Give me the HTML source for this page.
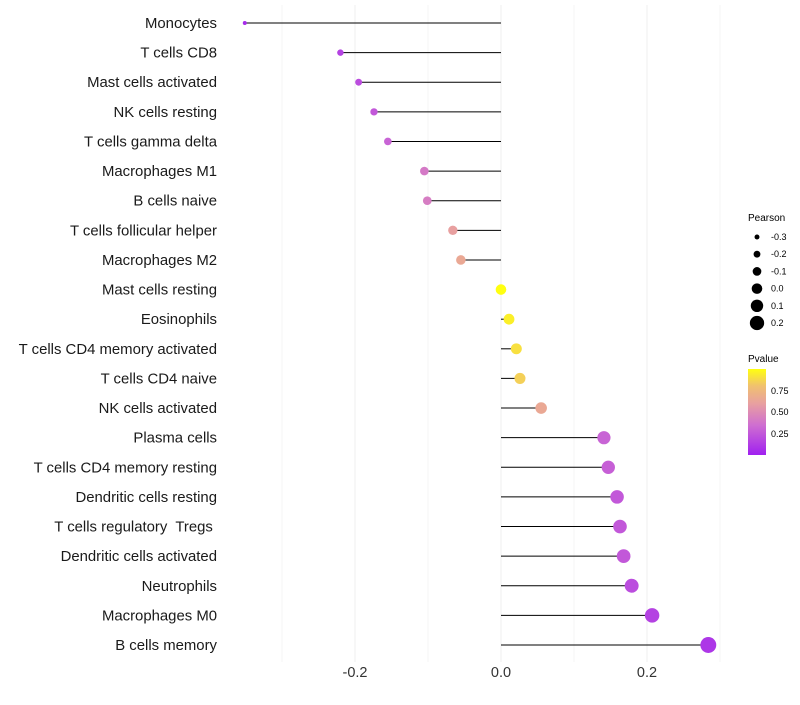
<!DOCTYPE html>
<html><head><meta charset="utf-8"><style>
body{margin:0;background:#fff;font-family:"Liberation Sans",sans-serif}
text{white-space:pre}
</style></head><body>
<svg id="chart" width="800" height="700" xmlns="http://www.w3.org/2000/svg">
<defs><linearGradient id="pg" x1="0" y1="1" x2="0" y2="0">
<stop offset="0" stop-color="#a020f0"/><stop offset="0.35" stop-color="#cf6fd0"/><stop offset="0.6" stop-color="#e8a0a0"/><stop offset="0.8" stop-color="#f0c070"/><stop offset="1" stop-color="#ffff10"/>
</linearGradient></defs>
<g id="grid"></g><g id="marks"></g><g id="labels"></g>
<g font-size="9" fill="#000">
<text x="748" y="221" font-size="10">Pearson</text>
<g id="sizeleg"></g>
</g>
<g font-size="9" fill="#000">
<text x="748" y="362" font-size="10">Pvalue</text>
<rect x="748" y="369" width="18" height="86" fill="url(#pg)"/>
<text x="771" y="394">0.75</text><text x="771" y="415">0.50</text><text x="771" y="437">0.25</text>
</g>
</svg>
<script>
const cats=["Monocytes","T cells CD8","Mast cells activated","NK cells resting","T cells gamma delta","Macrophages M1","B cells naive","T cells follicular helper","Macrophages M2","Mast cells resting","Eosinophils","T cells CD4 memory activated","T cells CD4 naive","NK cells activated","Plasma cells","T cells CD4 memory resting","Dendritic cells resting","T cells regulatory  Tregs ","Dendritic cells activated","Neutrophils","Macrophages M0","B cells memory"];
const pearson=[-0.351,-0.22,-0.195,-0.174,-0.155,-0.105,-0.101,-0.066,-0.055,0,0.011,0.021,0.026,0.055,0.141,0.147,0.159,0.163,0.168,0.179,0.207,0.284];
const pvals=[0.05,0.15,0.2,0.25,0.3,0.4,0.42,0.6,0.65,1.0,0.95,0.9,0.85,0.65,0.3,0.28,0.25,0.25,0.25,0.2,0.15,0.1];
const xTicks=[-0.2,0,0.2];
const xTickLabels=["-0.2","0.0","0.2"];
const legVals=[-0.3,-0.2,-0.1,0,0.1,0.2];
const NS="http://www.w3.org/2000/svg";
const X=v=>501+v*730;
const Y=i=>23+i*(645-23)/(cats.length-1);
const R=v=>2+(v+0.35)/0.64*6;
function col(p){
 const st=[[0,[160,32,240]],[0.35,[207,111,208]],[0.6,[232,160,160]],[0.8,[240,192,112]],[1,[255,255,16]]];
 for(let k=1;k<st.length;k++){if(p<=st[k][0]){const a=st[k-1],b=st[k],t=(p-a[0])/(b[0]-a[0]);return "rgb("+a[1].map((c,j)=>Math.round(c+(b[1][j]-c)*t)).join(",")+")";}}
 return "rgb(255,255,16)";
}
function mk(t,a,p){const e=document.createElementNS(NS,t);for(const k in a)e.setAttribute(k,a[k]);p.appendChild(e);return e;}
const grid=document.getElementById('grid'),marks=document.getElementById('marks'),labels=document.getElementById('labels');
[-0.3,-0.2,-0.1,0,0.1,0.2,0.3].forEach(v=>{const l=mk('line',{x1:X(v),x2:X(v),y1:5,y2:662,stroke:'#f0f0f0','stroke-width':Math.round(v*10)%2===0?1.1:0.6},grid);

});
xTicks.forEach((v,i)=>{const t=mk('text',{x:X(v),y:677,'text-anchor':'middle','font-size':14.5,fill:'#333'},labels);t.textContent=xTickLabels[i];

});
cats.forEach((c,i)=>{
 const t=mk('text',{x:217,y:Y(i)+5,'text-anchor':'end','font-size':14.9,fill:'#1a1a1a'},labels);t.textContent=c;
 
 
 const l=mk('line',{x1:X(0),x2:X(pearson[i]),y1:Y(i),y2:Y(i),stroke:'#000','stroke-width':1},marks);
 
 
 const d=mk('circle',{cx:X(pearson[i]),cy:Y(i),r:R(pearson[i]),fill:col(pvals[i])},marks);
 
 
});
const sl=document.getElementById('sizeleg');
legVals.forEach((v,i)=>{const y=237+i*17.2;
 const c=mk('circle',{cx:757,cy:y,r:R(v),fill:'#000'},sl);
 
 
 const t=mk('text',{x:771,y:y+3},sl);t.textContent=v.toFixed(1);
 
 });
</script>
</body></html>
